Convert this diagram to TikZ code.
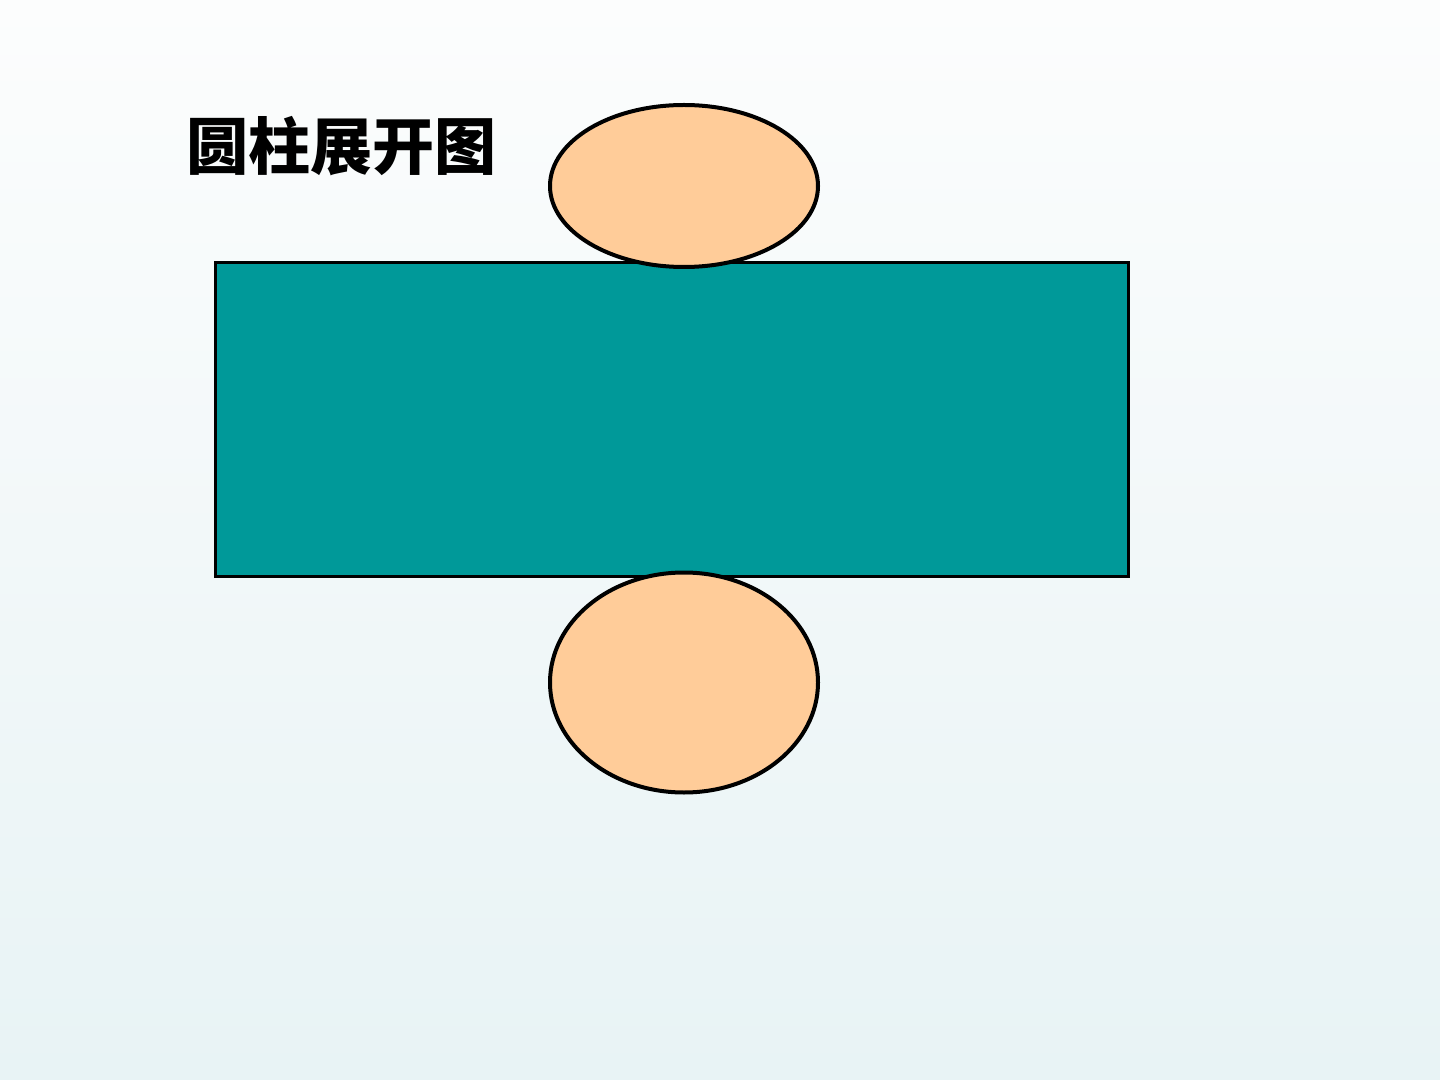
\documentclass[tikz,border=0pt]{standalone}
\usepackage{fontspec}
\usepackage{tikz}
\usetikzlibrary{shapes.geometric}
\newfontfamily\cjk{Noto Sans CJK SC}
\definecolor{teal}{RGB}{0,153,153}
\definecolor{peach}{RGB}{255,204,153}
\definecolor{paletop}{RGB}{252,253,253}
\definecolor{palebottom}{RGB}{232,243,245}

\begin{document}
\begin{tikzpicture}[x=0.5pt, y=-0.5pt]
			\shade [top color=paletop, bottom color=palebottom] (0, 0) rectangle (1440, 1080);
			\draw (186, 146) node [anchor=west, inner sep=0pt, font=\cjk\bfseries\fontsize{31}{31}\selectfont] (title) {圆柱展开图};
			\draw (671.5, 419.5) node [rectangle, draw, line width=1.5pt, fill=teal, minimum width=456.5pt, minimum height=156.5pt] (side) {};
			\draw (684, 186) node [ellipse, draw, line width=2pt, fill=peach, inner sep=0pt, minimum width=134pt, minimum height=81pt] (top) {};
			\draw (684, 682.5) node [ellipse, draw, line width=2pt, fill=peach, inner sep=0pt, minimum width=134pt, minimum height=110pt] (bottom) {};
		\end{tikzpicture}
\end{document}
